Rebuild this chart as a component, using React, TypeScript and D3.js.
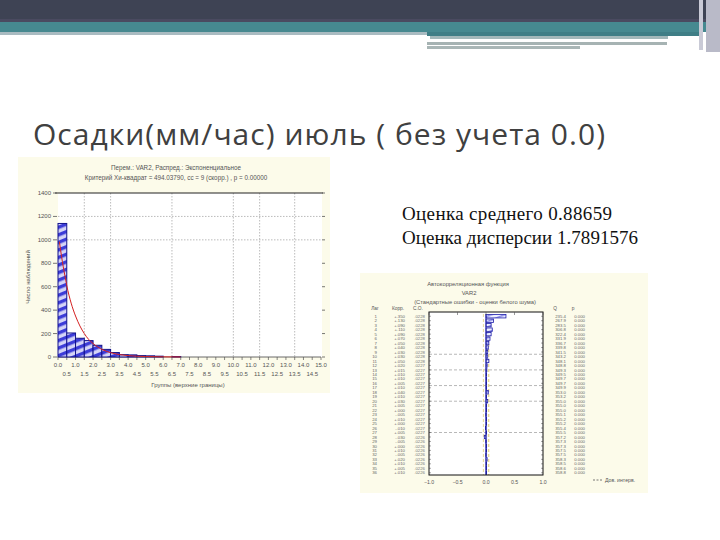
import React from "react";
import * as d3 from "d3";

// ---------- slide text ----------
const slideTitle = "Осадки(мм/час) июль ( без учета 0.0)";
const statLines = ["Оценка среднего 0.88659", "Оценка дисперсии 1.7891576"];

// ---------- histogram (left picture) ----------
const histTitle1 = "Перем.: VAR2, Распред.: Экспоненциальное";
const histTitle2 = "Критерий Хи-квадрат = 494.03790, сс = 9 (скорр.) , p = 0.00000";
const histXLabel = "Группы (верхние границы)";
const histYLabel = "Число наблюдений";
const binStarts = [0, 0.5, 1, 1.5, 2, 2.5, 3, 3.5, 4, 4.5, 5, 5.5, 6, 6.5];
const binCounts = [1140, 205, 160, 140, 100, 65, 38, 20, 18, 12, 10, 7, 0, 4];
const binWidth = 0.5;
const curveX = [0.08, 0.2, 0.3, 0.4, 0.5, 0.75, 1.0, 1.25, 1.5, 1.75, 2.0, 2.5, 3.0, 3.5, 4.0, 5.0, 6.0, 7.0];
const curveY = [985, 860, 770, 690, 610, 460, 350, 265, 200, 150, 115, 65, 37, 21, 12, 4, 1.3, 0.4];
const histYTicks = [0, 200, 400, 600, 800, 1000, 1200, 1400];
const histYGrid = [1000, 1200];
const histXGrid = [1.5, 3.0, 6.5, 10.0, 11.5, 13.5];
const histXMajor = d3.range(0, 16, 1);
const histXMinor = d3.range(0.5, 15, 1);

// ---------- autocorrelation (right picture) ----------
const acfTitle1 = "Автокорреляционная функция";
const acfTitle2 = "VAR2";
const acfTitle3 = "(Стандартные ошибки - оценки белого шума)";
const acfHeaders = ["Лаг", "Корр.", "С.О.", "Q", "p"];
const acfLegend = "Дов. интерв.";
const acfValues = [0.35, 0.13, 0.09, 0.11, 0.09, 0.07, 0.05, 0.04, 0.03, 0.03, 0.05, 0.02, 0.015, 0.01, 0.01, 0.005, 0.01, 0.04, 0.01, 0.03, 0.005, 0.0, -0.005, 0.01, 0.0, -0.01, 0.005, -0.03, -0.005, 0.0, 0.01, -0.005, 0.02, 0.01, 0.005, 0.01];
const acfN = 1919;
const acfXTicks = [-1, -0.5, 0, 0.5, 1];
const acfGridLags = [9.5, 13, 16.5, 20, 27];

export default function App() {
  // histogram scales
  const hx = d3.scaleLinear().domain([0, 15]).range([58, 321]);
  const hy = d3.scaleLinear().domain([0, 1400]).range([357, 193]);
  const curvePath = d3
    .line<number>()
    .x((_, i) => hx(curveX[i]))
    .y((d) => hy(d))
    .curve(d3.curveMonotoneX)(curveY) as string;

  // acf scales
  const lags = acfValues.map((_, i) => i + 1);
  const ax = d3.scaleLinear().domain([-1, 1]).range([429, 543]);
  const ay = d3.scaleLinear().domain([0.5, lags.length + 0.5]).range([314, 475]);
  const rowH = ay(2) - ay(1);
  const se = lags.map((k) => Math.sqrt((acfN - k) / (acfN * (acfN + 2))));
  let qAcc = 0;
  const qVals = acfValues.map((r, i) => {
    qAcc += (acfN * (acfN + 2) * r * r) / (acfN - (i + 1));
    return qAcc;
  });
  const fmtCorr = (v: number) => (v >= 0 ? "+" : "-") + d3.format(".3f")(Math.abs(v)).replace(/^0/, "");
  const fmtSe = (v: number) => d3.format(".4f")(v).replace(/^0/, "");
  const ci = 2 * se[0];

  const smallFont = "Liberation Sans, Arial, sans-serif";
  const statLengths = [210, 236];

  return (
    <svg width={720} height={540} style={{ position: "absolute", left: 0, top: 0 }} xmlns="http://www.w3.org/2000/svg">
      <defs>
        <pattern id="hatch" width="7" height="7" patternUnits="userSpaceOnUse" patternTransform="rotate(-22)">
          <rect width="7" height="7" fill="#d4d4f6" />
          <rect width="7" height="3.4" fill="#3c3cd8" />
        </pattern>
        <pattern id="hatch2" width="5" height="5" patternUnits="userSpaceOnUse" patternTransform="rotate(-22)">
          <rect width="5" height="5" fill="#eef0ff" />
          <rect width="5" height="1.6" fill="#8a8ae8" />
        </pattern>
      </defs>
      <rect width={720} height={540} fill="#ffffff" />

      {/* header band */}
      <rect x={0} y={0} width={720} height={21} fill="#3e4354" />
      <rect x={0} y={19} width={720} height={3} fill="#4a4a60" />
      <rect x={0} y={22} width={720} height={10} fill="#468990" />
      <rect x={0} y={32} width={427} height={3} fill="#a9bbc1" />
      <rect x={427} y={32} width={273} height={4} fill="#3f7e86" />
      <rect x={430} y={36} width={238} height={3} fill="#a3b8ba" />
      <rect x={427} y={42} width={240} height={3} fill="#a6b3b3" />
      <rect x={427} y={46} width={153} height={3} fill="#a9b6b6" />
      <rect x={699} y={0} width={4} height={50} fill="#c9cad6" />
      <rect x={706} y={0} width={14} height={52} fill="#b9bac8" />

      {/* slide title */}
      <text x={33} y={145} fontFamily="Open Sans, sans-serif" fontSize={30} fill="#404040" textLength={572} lengthAdjust="spacing">
        {slideTitle}
      </text>

      {/* stats text */}
      {statLines.map((t, i) => (
        <text key={t} x={402} y={220 + i * 24} fontFamily="Liberation Serif, serif" fontSize={19} fill="#111" textLength={statLengths[i]} lengthAdjust="spacing">
          {t}
        </text>
      ))}

      {/* ---------- histogram picture ---------- */}
      <rect x={18} y={157} width={312} height={236} fill="#fcfbea" />
      <rect x={hx(0)} y={hy(1400)} width={hx(15) - hx(0) + 1} height={hy(0) - hy(1400)} fill="#ffffff" />
      <text x={176} y={170} textAnchor="middle" fontFamily={smallFont} fontSize={6.3} fill="#555">{histTitle1}</text>
      <text x={176} y={180} textAnchor="middle" fontFamily={smallFont} fontSize={6.3} fill="#555">{histTitle2}</text>
      {histXGrid.map((g) => (
        <line key={g} x1={hx(g)} x2={hx(g)} y1={hy(1400)} y2={hy(0)} stroke="#aaa" strokeWidth={0.8} strokeDasharray="1.5,1.5" />
      ))}
      {histYGrid.map((g) => (
        <line key={g} x1={hx(0)} x2={hx(15)} y1={hy(g)} y2={hy(g)} stroke="#aaa" strokeWidth={0.8} strokeDasharray="1.5,1.5" />
      ))}
      <line x1={55} x2={323} y1={hy(1400)} y2={hy(1400)} stroke="#222" strokeWidth={1.2} />
      <line x1={hx(0)} x2={hx(15)} y1={hy(0)} y2={hy(0)} stroke="#444" strokeWidth={0.8} />
      {histYTicks.map((t) => (
        <g key={t}>
          <line x1={hx(0) - 5} x2={hx(0) - 1} y1={hy(t)} y2={hy(t)} stroke="#555" strokeWidth={0.8} />
          <line x1={hx(15) + 1} x2={hx(15) + 4} y1={hy(t)} y2={hy(t)} stroke="#555" strokeWidth={0.8} />
          <text x={hx(0) - 7} y={hy(t) + 2} textAnchor="end" fontFamily={smallFont} fontSize={6} fill="#555">{t}</text>
        </g>
      ))}
      {binStarts.map((b, i) =>
        binCounts[i] > 0 ? (
          <rect
            key={b}
            x={hx(b)}
            y={hy(binCounts[i])}
            width={hx(b + binWidth) - hx(b)}
            height={hy(0) - hy(binCounts[i])}
            fill="url(#hatch)"
            stroke="#12128a"
            strokeWidth={1}
          />
        ) : null
      )}
      <path d={curvePath} fill="none" stroke="#d42020" strokeWidth={1} />
      {histXMajor.map((t) => (
        <g key={"M" + t}>
          <line x1={hx(t)} x2={hx(t)} y1={hy(0)} y2={hy(0) + 3} stroke="#555" strokeWidth={0.7} />
          <text x={hx(t)} y={367} textAnchor="middle" fontFamily={smallFont} fontSize={6} fill="#555">{d3.format(".1f")(t)}</text>
        </g>
      ))}
      {histXMinor.map((t) => (
        <g key={"m" + t}>
          <line x1={hx(t)} x2={hx(t)} y1={hy(0)} y2={hy(0) + 3} stroke="#555" strokeWidth={0.7} />
          <text x={hx(t)} y={376} textAnchor="middle" fontFamily={smallFont} fontSize={6} fill="#555">{d3.format(".1f")(t)}</text>
        </g>
      ))}
      <text x={188} y={387} textAnchor="middle" fontFamily={smallFont} fontSize={6} fill="#555">{histXLabel}</text>
      <text transform="translate(30,277) rotate(-90)" textAnchor="middle" fontFamily={smallFont} fontSize={6} fill="#555">{histYLabel}</text>

      {/* ---------- autocorrelation picture ---------- */}
      <rect x={360} y={273} width={288} height={220} fill="#fcfbea" />
      <text x={468} y={286} textAnchor="middle" fontFamily={smallFont} fontSize={5.8} fill="#555">{acfTitle1}</text>
      <text x={469} y={295} textAnchor="middle" fontFamily={smallFont} fontSize={5.8} fill="#555">{acfTitle2}</text>
      <text x={475} y={304} textAnchor="middle" fontFamily={smallFont} fontSize={5.8} fill="#555">{acfTitle3}</text>
      <rect x={ax(-1)} y={ay(0.5) - 2} width={ax(1) - ax(-1)} height={ay(lags.length + 0.5) - ay(0.5) + 2} fill="#ffffff" />
      <text x={375} y={310} textAnchor="middle" fontFamily={smallFont} fontSize={4.8} fill="#555">{acfHeaders[0]}</text>
      <text x={398} y={310} textAnchor="middle" fontFamily={smallFont} fontSize={4.8} fill="#555">{acfHeaders[1]}</text>
      <text x={418} y={310} textAnchor="middle" fontFamily={smallFont} fontSize={4.8} fill="#555">{acfHeaders[2]}</text>
      <text x={555} y={310} textAnchor="middle" fontFamily={smallFont} fontSize={4.8} fill="#555">{acfHeaders[3]}</text>
      <text x={573} y={310} textAnchor="middle" fontFamily={smallFont} fontSize={4.8} fill="#555">{acfHeaders[4]}</text>
      {acfGridLags.map((g) => (
        <line key={g} x1={ax(-1)} x2={ax(1)} y1={ay(g)} y2={ay(g)} stroke="#999" strokeWidth={0.7} strokeDasharray="3,2" />
      ))}
      <line x1={ax(-ci)} x2={ax(-ci)} y1={ay(0.5)} y2={ay(lags.length + 0.5)} stroke="#e6da9a" strokeWidth={1} strokeDasharray="3,2" />
      <line x1={ax(ci)} x2={ax(ci)} y1={ay(0.5)} y2={ay(lags.length + 0.5)} stroke="#e6da9a" strokeWidth={1.5} strokeDasharray="3,2" />
      {lags.map((k, i) => {
        const v = acfValues[i];
        const y = ay(k);
        return (
          <g key={k}>
            <rect
              x={Math.min(ax(0), ax(v))}
              y={y - rowH * 0.38}
              width={Math.max(Math.abs(ax(v) - ax(0)), 0.6)}
              height={rowH * 0.76}
              fill="url(#hatch2)"
              stroke="#1c1ca8"
              strokeWidth={0.8}
            />
            <line x1={ax(-1)} x2={ax(-1) + 2} y1={y} y2={y} stroke="#555" strokeWidth={0.5} />
            <line x1={ax(1) - 2} x2={ax(1)} y1={y} y2={y} stroke="#555" strokeWidth={0.5} />
            <text x={377} y={y + 1.6} textAnchor="end" fontFamily={smallFont} fontSize={4.3} fill="#666">{k}</text>
            <text x={405} y={y + 1.6} textAnchor="end" fontFamily={smallFont} fontSize={4.3} fill="#666">{fmtCorr(v)}</text>
            <text x={425} y={y + 1.6} textAnchor="end" fontFamily={smallFont} fontSize={4.3} fill="#777">{fmtSe(se[i])}</text>
            <text x={566} y={y + 1.6} textAnchor="end" fontFamily={smallFont} fontSize={4.3} fill="#666">{d3.format(".1f")(qVals[i])}</text>
            <text x={585} y={y + 1.6} textAnchor="end" fontFamily={smallFont} fontSize={4.3} fill="#666">{"0.000"}</text>
          </g>
        );
      })}
      <line x1={ax(0)} x2={ax(0)} y1={ay(0.5)} y2={ay(lags.length + 0.5)} stroke="#2222a0" strokeWidth={1} />
      <rect x={ax(-1)} y={ay(0.5) - 2} width={ax(1) - ax(-1)} height={ay(lags.length + 0.5) - ay(0.5) + 2} fill="none" stroke="#111" strokeWidth={1} />
      {acfXTicks.map((t) => (
        <g key={t}>
          <line x1={ax(t)} x2={ax(t)} y1={ay(0.5) - 2} y2={ay(0.5) + 1} stroke="#555" strokeWidth={0.6} />
          <text x={ax(t)} y={484} textAnchor="middle" fontFamily={smallFont} fontSize={5.2} fill="#555">{d3.format(".1f")(t)}</text>
        </g>
      ))}
      <line x1={593} x2={603} y1={480} y2={480} stroke="#555" strokeWidth={0.8} strokeDasharray="2,1.5" />
      <text x={605} y={482} fontFamily={smallFont} fontSize={5.2} fill="#555">{acfLegend}</text>
    </svg>
  );
}
